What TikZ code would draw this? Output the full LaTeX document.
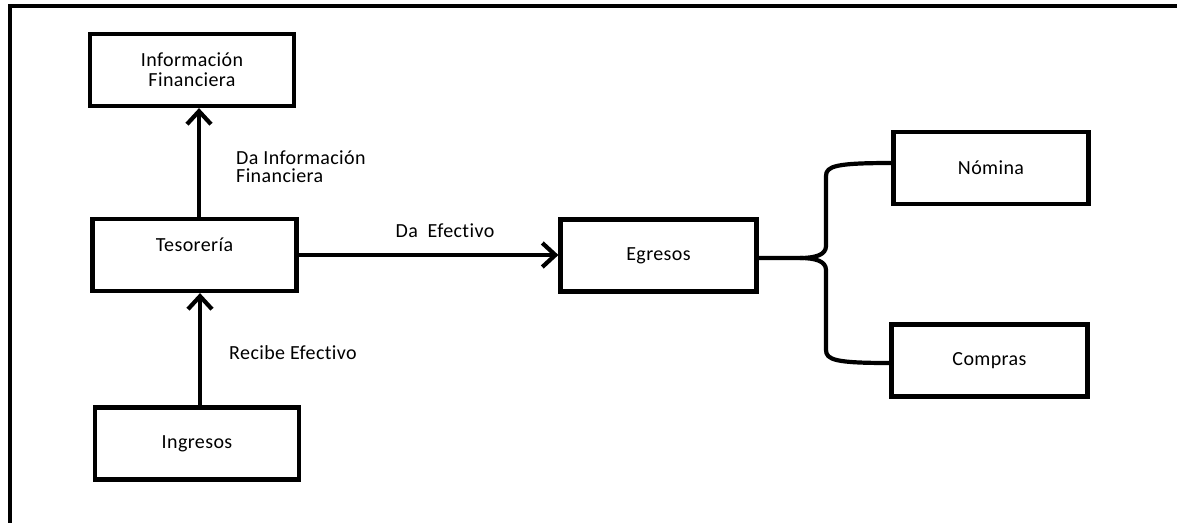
\documentclass[tikz,border=0pt]{standalone}
\usepackage{fontspec}
\setmainfont[Ligatures=NoCommon, LetterSpace=2]{Carlito}
\usetikzlibrary{arrows.meta}

\tikzset{
  box/.style={draw, line width=4.2pt, rectangle, minimum width=204pt, minimum height=72pt,
    font=\fontsize{20}{20}\selectfont, align=center, inner sep=0pt},
  lbl/.style={font=\fontsize{20}{18}\selectfont, align=left, inner sep=0pt},
  flow/.style={line width=4.2pt, -{Straight Barb[length=13pt,width=24pt,line width=4.2pt]}},
  bracket/.style={line width=4.2pt, line join=round},
  frame/.style={line width=3.8pt}
}

\begin{document}
\begin{tikzpicture}[x=1pt, y=-1pt]
  \useasboundingbox (0,0) rectangle (1177,523);

  % page frame (top and left edges)
  \draw[frame] (1177,6) -- (10,6) -- (10,523);

  % blocks
  \node[box] (info) at (192,70) {Información\\Financiera};
  \node[box, text height=14pt, text depth=22pt] (teso) at (194.5,255) {Tesorería};
  \node[box] (ing) at (197,443.5) {Ingresos};
  \node[box, minimum width=196pt] (egre) at (658.5,255.5) {Egresos};
  \node[box, minimum width=195pt] (nom) at (991,168) {Nómina};
  \node[box, minimum width=196pt] (comp) at (989.5,360.5) {Compras};

  % flows
  \draw[flow] ([xshift=4.5pt]teso.north) -- ([xshift=4.5pt]teso.north |- info.south);
  \draw[flow] ([xshift=3pt]ing.north) -- ([xshift=3pt]ing.north |- teso.south);
  \draw[flow] (teso.east) -- (teso.east -| egre.west);

  % flow labels
  \node[lbl, anchor=west] (lblinfo) at (236,167) {Da Información\\Financiera};
  \node[lbl] (lblefe) at (445,231) {Da\ \ Efectivo};
  \node[lbl] (lblrec) at (293,353) {Recibe Efectivo};

  % bracket from Egresos to Nómina and Compras
  \coordinate (tip) at (800,258);
  \coordinate (up1) at (826,246);
  \coordinate (up2) at (826,176);
  \coordinate (dn1) at (826,270);
  \coordinate (dn2) at (826,350);
  \draw[bracket] ([yshift=-2.5pt]egre.east) -- (tip)
    .. controls (815,258) and (826,255) .. (up1) -- (up2)
    .. controls (826,166) and (836,163) .. ([yshift=5pt]nom.west);
  \draw[bracket] (tip)
    .. controls (815,258) and (826,261) .. (dn1) -- (dn2)
    .. controls (826,360) and (836,363) .. ([yshift=-2.5pt]comp.west);
\end{tikzpicture}
\end{document}
